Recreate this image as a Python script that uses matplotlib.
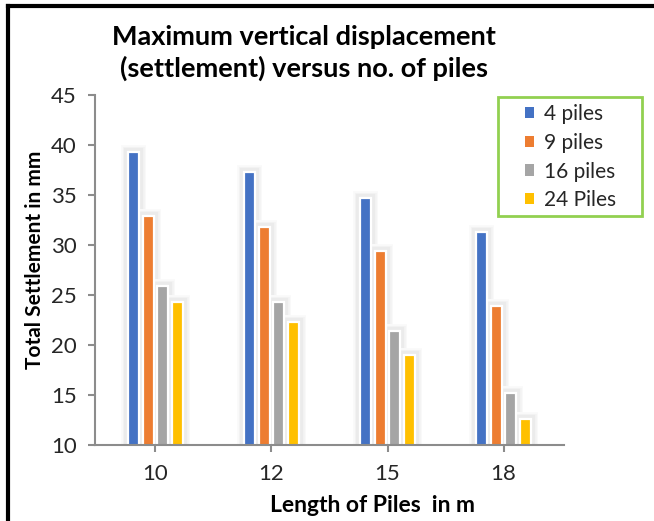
import matplotlib
matplotlib.use("Agg")
import matplotlib.pyplot as plt
import matplotlib.patheffects as pe
from matplotlib.lines import Line2D
from matplotlib.patches import Rectangle
import numpy as np

# Data
pile_lengths = ["10", "12", "15", "18"]
series_names = ["4 piles", "9 piles", "16 piles", "24 Piles"]
piles_4 = [39.3, 37.3, 34.7, 31.3]
piles_9 = [32.9, 31.8, 29.4, 23.9]
piles_16 = [25.9, 24.3, 21.4, 15.2]
piles_24 = [24.3, 22.3, 19.0, 12.6]
y_ticks = [10, 15, 20, 25, 30, 35, 40, 45]

colors = ["#4472C4", "#ED7D31", "#A5A5A5", "#FFC000"]
plt.rcParams["font.family"] = ["Lato", "DejaVu Sans"]

W, H = 654, 521
fig = plt.figure(figsize=(W / 100, H / 100), dpi=100)
ax = fig.add_axes([95 / W, 1 - 445 / H, (564 - 95) / W, 350 / H])

x = np.arange(len(pile_lengths))
pitch = 0.125
bw = 0.094
series = [piles_4, piles_9, piles_16, piles_24]

# soft shadow layer behind all bars
glow = [pe.Stroke(linewidth=10, foreground="#fafafa"),
        pe.Stroke(linewidth=8, foreground="#f4f4f4"),
        pe.Stroke(linewidth=6, foreground="#ebebeb"),
        pe.Normal()]
for i, vals in enumerate(series):
    shadow = ax.bar(x + (i - 1.5) * pitch, vals, width=bw, color="white", zorder=2)
    for b in shadow:
        b.set_path_effects(glow)

# the bars themselves, with a thin white rim
for i, (vals, c, name) in enumerate(zip(series, colors, series_names)):
    ax.bar(x + (i - 1.5) * pitch, vals, width=bw, color=c, label=name,
           edgecolor="white", linewidth=1.6, zorder=3)

ax.set_xlim(-0.52, 3.52)
ax.set_ylim(10, 45)
ax.set_yticks(y_ticks)
ax.set_xticks(x)
ax.set_xticklabels(pile_lengths)

for s in ["top", "right"]:
    ax.spines[s].set_visible(False)
for s in ["left", "bottom"]:
    ax.spines[s].set_color("#8c8c8c")
    ax.spines[s].set_linewidth(1.5)
    ax.spines[s].set_zorder(10)
ax.tick_params(axis="both", colors="#8c8c8c", length=5, width=1.5, labelcolor="#262626", labelsize=16)
ax.tick_params(axis="y", pad=8)
ax.tick_params(axis="x", pad=9)

fig.text(35 / W, 1 - 260 / H, "Total Settlement in mm", fontsize=15, fontweight="bold",
         rotation=90, ha="center", va="center")
fig.text(373 / W, 1 - 505 / H, "Length of Piles  in m", fontsize=16.5, fontweight="bold",
         ha="center", va="center")

fig.text(304 / W, 1 - 37 / H, "Maximum vertical displacement", fontsize=19.5,
         fontweight="bold", ha="center", va="center")
fig.text(304 / W, 1 - 68 / H, "(settlement) versus no. of piles", fontsize=19.5,
         fontweight="bold", ha="center", va="center")

# legend: entries without frame, green box drawn around them
leg = ax.legend(loc="upper left", bbox_to_anchor=(525 / W, 1 - 104 / H),
                bbox_transform=fig.transFigure, frameon=False,
                fontsize=15, handlelength=0.45, handleheight=0.45, handletextpad=0.45,
                labelspacing=0.42, borderpad=0, borderaxespad=0)
for h in leg.legend_handles:
    h.set_edgecolor("none")
for t in leg.get_texts():
    t.set_color("#262626")
fig.add_artist(Rectangle((498 / W, 1 - 216 / H), 144 / W, 119 / H, transform=fig.transFigure,
                         fill=False, edgecolor="#92D050", linewidth=2))

# outer frame on top and left
fig.add_artist(Line2D([8 / W, 8 / W], [0, 1 - 6 / H], transform=fig.transFigure,
                      color="black", linewidth=3))
fig.add_artist(Line2D([8 / W, 1], [1 - 6 / H, 1 - 6 / H], transform=fig.transFigure,
                      color="black", linewidth=3))

fig.savefig("out.png", dpi=100)
